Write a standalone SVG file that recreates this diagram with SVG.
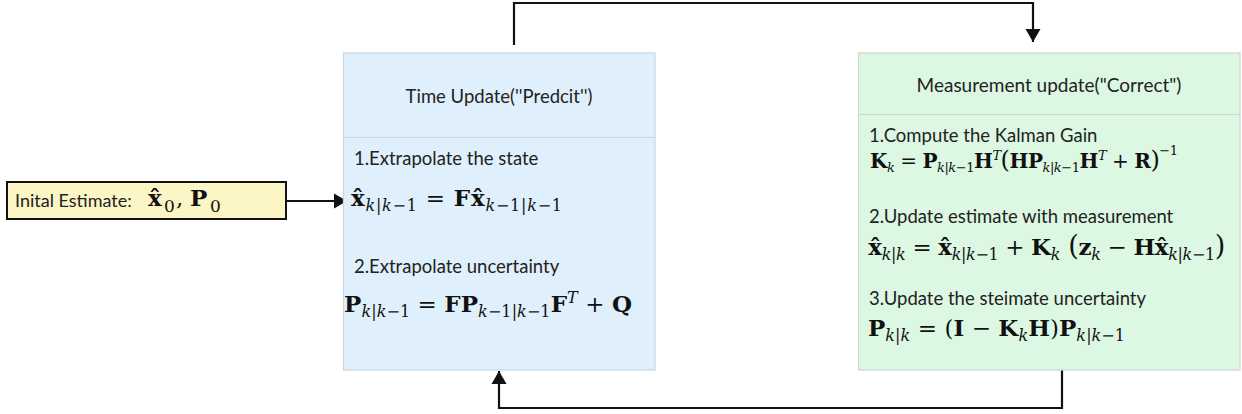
<svg xmlns="http://www.w3.org/2000/svg" width="1242" height="414" viewBox="0 0 1242 414">
  <style>
    .lbl { font-family: Lato, "Noto Sans", sans-serif; font-size: 18.5px; fill: #222; }
    .ttl { text-anchor: middle; }
    .m { font-family: "DejaVu Serif", "Liberation Serif", serif; font-size: 23px; fill: #111; }
    .b { font-weight: bold; }
    .i { font-style: italic; font-weight: normal; }
    .s { font-size: 16px; font-weight: normal; }
    .ss { font-size: 13px; font-weight: normal; }
    .wire { fill: none; stroke: #111; stroke-width: 2.2; }
  </style>
  <defs>
    <marker id="head" markerUnits="userSpaceOnUse" markerWidth="16" markerHeight="16" viewBox="0 0 16 16" refX="13" refY="8" orient="auto">
      <path d="M0,0.5 L13,8 L0,15.5 Z" fill="#111"/>
    </marker>
  </defs>

  <!-- connectors -->
  <g id="connectors">
    <path class="wire" d="M514,45 V3 H1033 V42" marker-end="url(#head)"/>
    <path class="wire" d="M1062,370 V408 H499 V371" marker-end="url(#head)"/>
    <path class="wire" d="M286,201 H347" marker-end="url(#head)"/>
  </g>

  <!-- initial estimate -->
  <g id="initial">
    <rect x="7" y="182" width="279" height="37" fill="#fcf5c5" stroke="#111" stroke-width="2"/>
    <text class="lbl" x="15" y="207" style="font-size:18px">Inital Estimate:</text>
    <text class="m" y="206"><tspan class="b" x="148">x̂</tspan><tspan class="s" x="164" dy="6" style="font-size:17px">0</tspan><tspan x="176" dy="-6">,</tspan><tspan class="b" x="190">P</tspan><tspan class="s" x="210" dy="6" style="font-size:17px">0</tspan></text>
  </g>

  <!-- time update -->
  <g id="time-update">
    <rect x="343.5" y="53" width="311.5" height="317" fill="#dff0fc" stroke="#c9d6df" stroke-width="1.2"/>
    <line x1="343.5" y1="137.5" x2="655" y2="137.5" stroke="#c9d6df" stroke-width="1.2"/>
    <text class="lbl ttl" x="499" y="103">Time Update(''Predcit'')</text>
    <text class="lbl" x="354" y="165">1.Extrapolate the state</text>
    <text class="m" x="351" y="206" textLength="211" lengthAdjust="spacing"><tspan class="b">x̂</tspan><tspan class="s" dy="5"><tspan class="i">k</tspan>|<tspan class="i">k</tspan>−1</tspan><tspan dy="-5"> = </tspan><tspan class="b">Fx̂</tspan><tspan class="s" dy="5"><tspan class="i">k</tspan>−1|<tspan class="i">k</tspan>−1</tspan></text>
    <text class="lbl" x="354" y="273">2.Extrapolate uncertainty</text>
    <text class="m" x="344" y="312" textLength="288" lengthAdjust="spacing"><tspan class="b">P</tspan><tspan class="s" dy="5"><tspan class="i">k</tspan>|<tspan class="i">k</tspan>−1</tspan><tspan dy="-5"> = </tspan><tspan class="b">FP</tspan><tspan class="s" dy="5"><tspan class="i">k</tspan>−1|<tspan class="i">k</tspan>−1</tspan><tspan class="b" dy="-5">F</tspan><tspan class="s i" dy="-9">T</tspan><tspan dy="9"> + </tspan><tspan class="b">Q</tspan></text>
  </g>

  <!-- measurement update -->
  <g id="measurement-update">
    <rect x="858.5" y="53" width="381.5" height="317" fill="#dcf8e3" stroke="#cfd6d1" stroke-width="1.2"/>
    <line x1="858.5" y1="114.5" x2="1240" y2="114.5" stroke="#cfd6d1" stroke-width="1.2"/>
    <text class="lbl ttl" x="1049" y="92" style="font-size:19px">Measurement update("Correct")</text>
    <text class="lbl" x="869" y="142">1.Compute the Kalman Gain</text>
    <text class="m" x="870" y="168" style="font-size:20px" textLength="308" lengthAdjust="spacing"><tspan class="b">K</tspan><tspan class="ss i" dy="4">k</tspan><tspan dy="-4"> = </tspan><tspan class="b">P</tspan><tspan class="ss" dy="4"><tspan class="i">k</tspan>|<tspan class="i">k</tspan>−1</tspan><tspan class="b" dy="-4">H</tspan><tspan class="ss i" dy="-8">T</tspan><tspan dy="8" style="font-size:24px">(</tspan><tspan class="b">HP</tspan><tspan class="ss" dy="4"><tspan class="i">k</tspan>|<tspan class="i">k</tspan>−1</tspan><tspan class="b" dy="-4">H</tspan><tspan class="ss i" dy="-8">T</tspan><tspan dy="8"> + </tspan><tspan class="b">R</tspan><tspan style="font-size:24px">)</tspan><tspan class="ss" dy="-13">−1</tspan></text>
    <text class="lbl" x="869" y="223">2.Update estimate with measurement</text>
    <text class="m" x="868" y="255" textLength="357" lengthAdjust="spacing"><tspan class="b">x̂</tspan><tspan class="s" dy="5"><tspan class="i">k</tspan>|<tspan class="i">k</tspan></tspan><tspan dy="-5"> = </tspan><tspan class="b">x̂</tspan><tspan class="s" dy="5"><tspan class="i">k</tspan>|<tspan class="i">k</tspan>−1</tspan><tspan dy="-5"> + </tspan><tspan class="b">K</tspan><tspan class="s i" dy="5">k</tspan><tspan dy="-5" style="font-size:27px"> (</tspan><tspan class="b">z</tspan><tspan class="s i" dy="5">k</tspan><tspan dy="-5"> − </tspan><tspan class="b">Hx̂</tspan><tspan class="s" dy="5"><tspan class="i">k</tspan>|<tspan class="i">k</tspan>−1</tspan><tspan dy="-5" style="font-size:27px">)</tspan></text>
    <text class="lbl" x="869" y="305">3.Update the steimate uncertainty</text>
    <text class="m" x="868" y="336" textLength="257" lengthAdjust="spacing"><tspan class="b">P</tspan><tspan class="s" dy="5"><tspan class="i">k</tspan>|<tspan class="i">k</tspan></tspan><tspan dy="-5"> = (</tspan><tspan class="b">I</tspan> − <tspan class="b">K</tspan><tspan class="s i" dy="5">k</tspan><tspan class="b" dy="-5">H</tspan>)<tspan class="b">P</tspan><tspan class="s" dy="5"><tspan class="i">k</tspan>|<tspan class="i">k</tspan>−1</tspan></text>
  </g>
</svg>
